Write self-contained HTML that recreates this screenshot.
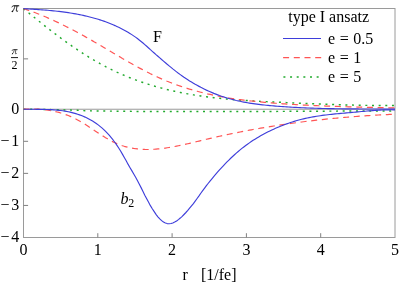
<!DOCTYPE html>
<html><head><meta charset="utf-8"><title>plot</title>
<style>
html,body{margin:0;padding:0;background:#fff;}
body{width:399px;height:283px;overflow:hidden;}
svg{display:block;}
text{font-family:"Liberation Serif",serif;font-size:16px;fill:#000;}
</style></head><body>
<svg width="399" height="283" viewBox="0 0 399 283">
<rect width="399" height="283" fill="#fff"/>
<g stroke="#9a9a9a" stroke-width="1" fill="none">
<rect x="23.5" y="8.5" width="371.5" height="229.0"/>
<line x1="23.5" y1="109.23729384585334" x2="395.0" y2="109.23729384585334"/>
<line stroke="#808080" x1="97.80" y1="233.20" x2="97.80" y2="237.50"/><line stroke="#808080" x1="172.10" y1="233.20" x2="172.10" y2="237.50"/><line stroke="#808080" x1="246.40" y1="233.20" x2="246.40" y2="237.50"/><line stroke="#808080" x1="320.70" y1="233.20" x2="320.70" y2="237.50"/><line stroke="#808080" x1="23.50" y1="58.87" x2="28.10" y2="58.87"/><line stroke="#808080" x1="23.50" y1="141.30" x2="28.10" y2="141.30"/><line stroke="#808080" x1="23.50" y1="173.37" x2="28.10" y2="173.37"/><line stroke="#808080" x1="23.50" y1="205.43" x2="28.10" y2="205.43"/>
</g>
<g fill="none" stroke-linecap="butt" stroke-linejoin="round">
<path d="M23.5,8.57 L25.4,10.11 L27.2,11.66 L29.1,13.19 L31.0,14.73 L32.8,16.25 L34.7,17.77 L36.6,19.28 L38.4,20.78 L40.3,22.27 L42.2,23.76 L44.0,25.23 L45.9,26.70 L47.8,28.16 L49.6,29.61 L51.5,31.04 L53.4,32.47 L55.2,33.89 L57.1,35.29 L59.0,36.68 L60.8,38.06 L62.7,39.43 L64.6,40.79 L66.4,42.13 L68.3,43.46 L70.2,44.77 L72.0,46.07 L73.9,47.36 L75.8,48.63 L77.6,49.88 L79.5,51.12 L81.4,52.34 L83.2,53.55 L85.1,54.74 L87.0,55.91 L88.8,57.07 L90.7,58.21 L92.6,59.32 L94.4,60.42 L96.3,61.51 L98.2,62.57 L100.0,63.61 L101.9,64.63 L103.8,65.63 L105.6,66.62 L107.5,67.58 L109.4,68.53 L111.2,69.45 L113.1,70.36 L115.0,71.25 L116.8,72.12 L118.7,72.97 L120.6,73.81 L122.4,74.63 L124.3,75.43 L126.2,76.21 L128.0,76.98 L129.9,77.73 L131.8,78.46 L133.6,79.18 L135.5,79.88 L137.4,80.57 L139.2,81.24 L141.1,81.89 L143.0,82.53 L144.8,83.16 L146.7,83.77 L148.6,84.36 L150.4,84.94 L152.3,85.51 L154.2,86.06 L156.0,86.60 L157.9,87.13 L159.8,87.64 L161.6,88.14 L163.5,88.63 L165.4,89.10 L167.2,89.57 L169.1,90.02 L171.0,90.45 L172.8,90.88 L174.7,91.29 L176.6,91.70 L178.4,92.09 L180.3,92.47 L182.2,92.84 L184.0,93.20 L185.9,93.55 L187.8,93.89 L189.6,94.22 L191.5,94.54 L193.4,94.85 L195.2,95.15 L197.1,95.44 L199.0,95.72 L200.8,96.00 L202.7,96.26 L204.6,96.52 L206.4,96.77 L208.3,97.01 L210.2,97.24 L212.1,97.47 L213.9,97.69 L215.8,97.90 L217.7,98.10 L219.5,98.30 L221.4,98.49 L223.3,98.68 L225.1,98.86 L227.0,99.03 L228.9,99.20 L230.7,99.36 L232.6,99.51 L234.5,99.66 L236.3,99.81 L238.2,99.95 L240.1,100.09 L241.9,100.22 L243.8,100.35 L245.7,100.47 L247.5,100.59 L249.4,100.71 L251.3,100.82 L253.1,100.93 L255.0,101.04 L256.9,101.15 L258.7,101.25 L260.6,101.35 L262.5,101.45 L264.3,101.54 L266.2,101.64 L268.1,101.73 L269.9,101.82 L271.8,101.91 L273.7,102.00 L275.5,102.08 L277.4,102.17 L279.3,102.26 L281.1,102.35 L283.0,102.43 L284.9,102.52 L286.7,102.60 L288.6,102.69 L290.5,102.78 L292.3,102.86 L294.2,102.94 L296.1,103.03 L297.9,103.11 L299.8,103.19 L301.7,103.28 L303.5,103.36 L305.4,103.44 L307.3,103.52 L309.1,103.59 L311.0,103.67 L312.9,103.75 L314.7,103.83 L316.6,103.90 L318.5,103.97 L320.3,104.05 L322.2,104.12 L324.1,104.19 L325.9,104.26 L327.8,104.33 L329.7,104.39 L331.5,104.46 L333.4,104.52 L335.3,104.59 L337.1,104.65 L339.0,104.71 L340.9,104.77 L342.7,104.82 L344.6,104.88 L346.5,104.93 L348.3,104.98 L350.2,105.03 L352.1,105.08 L353.9,105.12 L355.8,105.17 L357.7,105.21 L359.5,105.25 L361.4,105.29 L363.3,105.32 L365.1,105.36 L367.0,105.39 L368.9,105.42 L370.7,105.45 L372.6,105.47 L374.5,105.49 L376.3,105.51 L378.2,105.53 L380.1,105.55 L381.9,105.56 L383.8,105.57 L385.7,105.58 L387.5,105.58 L389.4,105.58 L391.3,105.58 L393.1,105.58 L395.0,105.57" stroke="#22aa2e" stroke-width="1.45" stroke-dasharray="2 4.65"/>
<path d="M23.5,109.20 L25.4,109.22 L27.2,109.24 L29.1,109.26 L31.0,109.29 L32.8,109.31 L34.7,109.34 L36.6,109.37 L38.4,109.39 L40.3,109.42 L42.2,109.45 L44.0,109.48 L45.9,109.52 L47.8,109.55 L49.6,109.58 L51.5,109.62 L53.4,109.65 L55.2,109.69 L57.1,109.73 L59.0,109.77 L60.8,109.82 L62.7,109.86 L64.6,109.91 L66.4,109.95 L68.3,110.00 L70.2,110.06 L72.0,110.11 L73.9,110.17 L75.8,110.24 L77.6,110.31 L79.5,110.41 L81.4,110.52 L83.2,110.63 L85.1,110.70 L87.0,110.76 L88.8,110.80 L90.7,110.85 L92.6,110.88 L94.4,110.92 L96.3,110.95 L98.2,110.97 L100.0,111.00 L101.9,111.02 L103.8,111.05 L105.6,111.07 L107.5,111.08 L109.4,111.10 L111.2,111.12 L113.1,111.13 L115.0,111.15 L116.8,111.17 L118.7,111.19 L120.6,111.21 L122.4,111.23 L124.3,111.26 L126.2,111.29 L128.0,111.32 L129.9,111.34 L131.8,111.37 L133.6,111.39 L135.5,111.40 L137.4,111.40 L139.2,111.40 L141.1,111.40 L143.0,111.40 L144.8,111.40 L146.7,111.40 L148.6,111.40 L150.4,111.40 L152.3,111.40 L154.2,111.40 L156.0,111.40 L157.9,111.40 L159.8,111.40 L161.6,111.40 L163.5,111.40 L165.4,111.40 L167.2,111.40 L169.1,111.40 L171.0,111.40 L172.8,111.40 L174.7,111.40 L176.6,111.40 L178.4,111.40 L180.3,111.40 L182.2,111.40 L184.0,111.40 L185.9,111.40 L187.8,111.40 L189.6,111.40 L191.5,111.40 L193.4,111.40 L195.2,111.40 L197.1,111.40 L199.0,111.40 L200.8,111.40 L202.7,111.40 L204.6,111.40 L206.4,111.41 L208.3,111.41 L210.2,111.41 L212.1,111.42 L213.9,111.42 L215.8,111.43 L217.7,111.43 L219.5,111.44 L221.4,111.45 L223.3,111.45 L225.1,111.46 L227.0,111.46 L228.9,111.47 L230.7,111.48 L232.6,111.48 L234.5,111.49 L236.3,111.49 L238.2,111.49 L240.1,111.50 L241.9,111.50 L243.8,111.50 L245.7,111.50 L247.5,111.50 L249.4,111.50 L251.3,111.50 L253.1,111.49 L255.0,111.49 L256.9,111.48 L258.7,111.48 L260.6,111.47 L262.5,111.47 L264.3,111.46 L266.2,111.45 L268.1,111.45 L269.9,111.44 L271.8,111.43 L273.7,111.42 L275.5,111.41 L277.4,111.40 L279.3,111.40 L281.1,111.39 L283.0,111.38 L284.9,111.37 L286.7,111.36 L288.6,111.35 L290.5,111.34 L292.3,111.33 L294.2,111.32 L296.1,111.32 L297.9,111.31 L299.8,111.30 L301.7,111.29 L303.5,111.29 L305.4,111.28 L307.3,111.27 L309.1,111.26 L311.0,111.25 L312.9,111.24 L314.7,111.23 L316.6,111.22 L318.5,111.21 L320.3,111.20 L322.2,111.18 L324.1,111.17 L325.9,111.16 L327.8,111.15 L329.7,111.14 L331.5,111.13 L333.4,111.12 L335.3,111.11 L337.1,111.10 L339.0,111.09 L340.9,111.08 L342.7,111.07 L344.6,111.06 L346.5,111.05 L348.3,111.04 L350.2,111.04 L352.1,111.03 L353.9,111.02 L355.8,111.02 L357.7,111.01 L359.5,111.01 L361.4,111.01 L363.3,111.00 L365.1,111.00 L367.0,111.00 L368.9,111.00 L370.7,111.00 L372.6,111.00 L374.5,111.00 L376.3,111.00 L378.2,111.00 L380.1,111.00 L381.9,111.00 L383.8,111.00 L385.7,111.00 L387.5,111.00 L389.4,111.00 L391.3,111.00 L393.1,111.00 L395.0,111.00" stroke="#22aa2e" stroke-width="1.45" stroke-dasharray="2 4.65"/>
<path d="M23.5,8.61 L25.4,9.22 L27.2,9.85 L29.1,10.50 L31.0,11.16 L32.8,11.84 L34.7,12.54 L36.6,13.25 L38.4,13.98 L40.3,14.72 L42.2,15.49 L44.0,16.26 L45.9,17.05 L47.8,17.86 L49.6,18.68 L51.5,19.52 L53.4,20.36 L55.2,21.23 L57.1,22.10 L59.0,22.99 L60.8,23.89 L62.7,24.81 L64.6,25.73 L66.4,26.67 L68.3,27.62 L70.2,28.58 L72.0,29.55 L73.9,30.54 L75.8,31.53 L77.6,32.53 L79.5,33.55 L81.4,34.57 L83.2,35.60 L85.1,36.64 L87.0,37.69 L88.8,38.75 L90.7,39.81 L92.6,40.88 L94.4,41.96 L96.3,43.04 L98.2,44.13 L100.0,45.22 L101.9,46.32 L103.8,47.42 L105.6,48.52 L107.5,49.62 L109.4,50.73 L111.2,51.83 L113.1,52.93 L115.0,54.03 L116.8,55.13 L118.7,56.23 L120.6,57.32 L122.4,58.41 L124.3,59.49 L126.2,60.57 L128.0,61.64 L129.9,62.70 L131.8,63.76 L133.6,64.80 L135.5,65.84 L137.4,66.86 L139.2,67.88 L141.1,68.88 L143.0,69.87 L144.8,70.85 L146.7,71.81 L148.6,72.76 L150.4,73.69 L152.3,74.60 L154.2,75.50 L156.0,76.38 L157.9,77.24 L159.8,78.09 L161.6,78.91 L163.5,79.71 L165.4,80.50 L167.2,81.27 L169.1,82.02 L171.0,82.75 L172.8,83.46 L174.7,84.16 L176.6,84.84 L178.4,85.50 L180.3,86.15 L182.2,86.78 L184.0,87.39 L185.9,87.99 L187.8,88.57 L189.6,89.14 L191.5,89.69 L193.4,90.23 L195.2,90.76 L197.1,91.27 L199.0,91.76 L200.8,92.24 L202.7,92.71 L204.6,93.17 L206.4,93.61 L208.3,94.04 L210.2,94.45 L212.1,94.86 L213.9,95.25 L215.8,95.63 L217.7,96.00 L219.5,96.36 L221.4,96.71 L223.3,97.05 L225.1,97.37 L227.0,97.69 L228.9,98.00 L230.7,98.30 L232.6,98.58 L234.5,98.86 L236.3,99.13 L238.2,99.40 L240.1,99.65 L241.9,99.90 L243.8,100.13 L245.7,100.36 L247.5,100.59 L249.4,100.80 L251.3,101.01 L253.1,101.22 L255.0,101.41 L256.9,101.60 L258.7,101.79 L260.6,101.97 L262.5,102.14 L264.3,102.31 L266.2,102.48 L268.1,102.64 L269.9,102.79 L271.8,102.95 L273.7,103.09 L275.5,103.24 L277.4,103.38 L279.3,103.52 L281.1,103.65 L283.0,103.79 L284.9,103.91 L286.7,104.04 L288.6,104.16 L290.5,104.28 L292.3,104.40 L294.2,104.51 L296.1,104.62 L297.9,104.73 L299.8,104.83 L301.7,104.93 L303.5,105.03 L305.4,105.13 L307.3,105.22 L309.1,105.32 L311.0,105.41 L312.9,105.49 L314.7,105.58 L316.6,105.66 L318.5,105.74 L320.3,105.82 L322.2,105.90 L324.1,105.97 L325.9,106.04 L327.8,106.11 L329.7,106.18 L331.5,106.25 L333.4,106.32 L335.3,106.38 L337.1,106.44 L339.0,106.50 L340.9,106.56 L342.7,106.62 L344.6,106.68 L346.5,106.74 L348.3,106.79 L350.2,106.84 L352.1,106.90 L353.9,106.95 L355.8,107.00 L357.7,107.05 L359.5,107.10 L361.4,107.15 L363.3,107.20 L365.1,107.24 L367.0,107.29 L368.9,107.34 L370.7,107.38 L372.6,107.43 L374.5,107.47 L376.3,107.52 L378.2,107.57 L380.1,107.61 L381.9,107.66 L383.8,107.70 L385.7,107.75 L387.5,107.79 L389.4,107.84 L391.3,107.88 L393.1,107.93 L395.0,107.98" stroke="#ff5555" stroke-width="1.2" stroke-dasharray="6 4.7"/>
<path d="M23.5,109.21 L25.4,109.13 L27.2,109.07 L29.1,109.03 L31.0,109.01 L32.8,109.02 L34.7,109.06 L36.6,109.12 L38.4,109.21 L40.3,109.33 L42.2,109.48 L44.0,109.67 L45.9,109.89 L47.8,110.14 L49.6,110.43 L51.5,110.75 L53.4,111.11 L55.2,111.52 L57.1,111.96 L59.0,112.45 L60.8,112.98 L62.7,113.56 L64.6,114.18 L66.4,114.85 L68.3,115.56 L70.2,116.33 L72.0,117.15 L73.9,118.02 L75.8,118.95 L77.6,119.93 L79.5,120.96 L81.4,122.04 L83.2,123.17 L85.1,124.33 L87.0,125.53 L88.8,126.74 L90.7,127.98 L92.6,129.23 L94.4,130.48 L96.3,131.73 L98.2,132.97 L100.0,134.20 L101.9,135.40 L103.8,136.59 L105.6,137.73 L107.5,138.84 L109.4,139.91 L111.2,140.92 L113.1,141.88 L115.0,142.77 L116.8,143.60 L118.7,144.36 L120.6,145.07 L122.4,145.71 L124.3,146.30 L126.2,146.83 L128.0,147.31 L129.9,147.74 L131.8,148.11 L133.6,148.44 L135.5,148.72 L137.4,148.95 L139.2,149.14 L141.1,149.29 L143.0,149.39 L144.8,149.46 L146.7,149.49 L148.6,149.48 L150.4,149.44 L152.3,149.37 L154.2,149.26 L156.0,149.12 L157.9,148.96 L159.8,148.77 L161.6,148.56 L163.5,148.32 L165.4,148.06 L167.2,147.78 L169.1,147.49 L171.0,147.17 L172.8,146.84 L174.7,146.49 L176.6,146.13 L178.4,145.76 L180.3,145.37 L182.2,144.97 L184.0,144.57 L185.9,144.15 L187.8,143.73 L189.6,143.30 L191.5,142.86 L193.4,142.42 L195.2,141.97 L197.1,141.52 L199.0,141.07 L200.8,140.62 L202.7,140.17 L204.6,139.73 L206.4,139.28 L208.3,138.84 L210.2,138.40 L212.1,137.97 L213.9,137.54 L215.8,137.12 L217.7,136.70 L219.5,136.28 L221.4,135.87 L223.3,135.46 L225.1,135.06 L227.0,134.66 L228.9,134.27 L230.7,133.88 L232.6,133.49 L234.5,133.11 L236.3,132.73 L238.2,132.35 L240.1,131.99 L241.9,131.62 L243.8,131.26 L245.7,130.90 L247.5,130.55 L249.4,130.20 L251.3,129.85 L253.1,129.51 L255.0,129.17 L256.9,128.84 L258.7,128.51 L260.6,128.18 L262.5,127.86 L264.3,127.54 L266.2,127.23 L268.1,126.92 L269.9,126.61 L271.8,126.31 L273.7,126.01 L275.5,125.72 L277.4,125.43 L279.3,125.14 L281.1,124.86 L283.0,124.58 L284.9,124.30 L286.7,124.03 L288.6,123.76 L290.5,123.50 L292.3,123.24 L294.2,122.98 L296.1,122.73 L297.9,122.48 L299.8,122.23 L301.7,121.99 L303.5,121.75 L305.4,121.51 L307.3,121.28 L309.1,121.05 L311.0,120.83 L312.9,120.61 L314.7,120.39 L316.6,120.18 L318.5,119.97 L320.3,119.76 L322.2,119.56 L324.1,119.36 L325.9,119.16 L327.8,118.97 L329.7,118.78 L331.5,118.60 L333.4,118.41 L335.3,118.23 L337.1,118.06 L339.0,117.89 L340.9,117.72 L342.7,117.55 L344.6,117.39 L346.5,117.23 L348.3,117.08 L350.2,116.92 L352.1,116.77 L353.9,116.63 L355.8,116.49 L357.7,116.35 L359.5,116.21 L361.4,116.08 L363.3,115.95 L365.1,115.82 L367.0,115.70 L368.9,115.58 L370.7,115.46 L372.6,115.35 L374.5,115.24 L376.3,115.13 L378.2,115.02 L380.1,114.92 L381.9,114.82 L383.8,114.73 L385.7,114.64 L387.5,114.55 L389.4,114.46 L391.3,114.38 L393.1,114.30 L395.0,114.22" stroke="#ff5555" stroke-width="1.2" stroke-dasharray="6 4.7"/>
<path d="M23.5,8.60 L25.4,8.71 L27.2,8.83 L29.1,8.95 L31.0,9.07 L32.8,9.19 L34.7,9.31 L36.6,9.44 L38.4,9.57 L40.3,9.70 L42.2,9.84 L44.0,9.99 L45.9,10.14 L47.8,10.30 L49.6,10.47 L51.5,10.64 L53.4,10.82 L55.2,11.02 L57.1,11.22 L59.0,11.43 L60.8,11.65 L62.7,11.89 L64.6,12.14 L66.4,12.39 L68.3,12.67 L70.2,12.95 L72.0,13.26 L73.9,13.57 L75.8,13.90 L77.6,14.25 L79.5,14.62 L81.4,15.00 L83.2,15.40 L85.1,15.82 L87.0,16.25 L88.8,16.71 L90.7,17.19 L92.6,17.69 L94.4,18.21 L96.3,18.75 L98.2,19.32 L100.0,19.90 L101.9,20.52 L103.8,21.16 L105.6,21.83 L107.5,22.52 L109.4,23.25 L111.2,24.00 L113.1,24.79 L115.0,25.60 L116.8,26.46 L118.7,27.34 L120.6,28.26 L122.4,29.22 L124.3,30.21 L126.2,31.24 L128.0,32.32 L129.9,33.44 L131.8,34.62 L133.6,35.85 L135.5,37.15 L137.4,38.52 L139.2,39.97 L141.1,41.48 L143.0,43.05 L144.8,44.66 L146.7,46.30 L148.6,47.97 L150.4,49.64 L152.3,51.31 L154.2,52.98 L156.0,54.63 L157.9,56.26 L159.8,57.89 L161.6,59.50 L163.5,61.11 L165.4,62.71 L167.2,64.29 L169.1,65.86 L171.0,67.40 L172.8,68.92 L174.7,70.40 L176.6,71.85 L178.4,73.26 L180.3,74.63 L182.2,75.97 L184.0,77.27 L185.9,78.53 L187.8,79.75 L189.6,80.94 L191.5,82.10 L193.4,83.22 L195.2,84.31 L197.1,85.36 L199.0,86.38 L200.8,87.36 L202.7,88.32 L204.6,89.24 L206.4,90.13 L208.3,90.99 L210.2,91.82 L212.1,92.62 L213.9,93.39 L215.8,94.13 L217.7,94.84 L219.5,95.52 L221.4,96.18 L223.3,96.80 L225.1,97.40 L227.0,97.98 L228.9,98.53 L230.7,99.05 L232.6,99.55 L234.5,100.03 L236.3,100.48 L238.2,100.91 L240.1,101.31 L241.9,101.70 L243.8,102.07 L245.7,102.41 L247.5,102.74 L249.4,103.06 L251.3,103.35 L253.1,103.63 L255.0,103.90 L256.9,104.15 L258.7,104.38 L260.6,104.61 L262.5,104.82 L264.3,105.02 L266.2,105.22 L268.1,105.40 L269.9,105.57 L271.8,105.74 L273.7,105.90 L275.5,106.06 L277.4,106.21 L279.3,106.35 L281.1,106.49 L283.0,106.62 L284.9,106.75 L286.7,106.88 L288.6,107.00 L290.5,107.11 L292.3,107.22 L294.2,107.33 L296.1,107.43 L297.9,107.53 L299.8,107.62 L301.7,107.71 L303.5,107.79 L305.4,107.88 L307.3,107.95 L309.1,108.03 L311.0,108.10 L312.9,108.16 L314.7,108.23 L316.6,108.29 L318.5,108.34 L320.3,108.40 L322.2,108.45 L324.1,108.49 L325.9,108.54 L327.8,108.58 L329.7,108.62 L331.5,108.66 L333.4,108.69 L335.3,108.72 L337.1,108.75 L339.0,108.78 L340.9,108.80 L342.7,108.82 L344.6,108.85 L346.5,108.86 L348.3,108.88 L350.2,108.90 L352.1,108.91 L353.9,108.92 L355.8,108.93 L357.7,108.94 L359.5,108.95 L361.4,108.96 L363.3,108.96 L365.1,108.97 L367.0,108.97 L368.9,108.98 L370.7,108.98 L372.6,108.98 L374.5,108.98 L376.3,108.98 L378.2,108.99 L380.1,108.99 L381.9,108.99 L383.8,108.99 L385.7,108.99 L387.5,108.99 L389.4,108.99 L391.3,108.99 L393.1,108.99 L395.0,108.99" stroke="#3e3eda" stroke-width="1.15"/>
<path d="M23.5,109.20 L25.4,109.23 L27.2,109.25 L29.1,109.27 L31.0,109.28 L32.8,109.29 L34.7,109.30 L36.6,109.31 L38.4,109.32 L40.3,109.34 L42.2,109.37 L44.0,109.40 L45.9,109.45 L47.8,109.51 L49.6,109.60 L51.5,109.69 L53.4,109.81 L55.2,109.96 L57.1,110.12 L59.0,110.32 L60.8,110.54 L62.7,110.80 L64.6,111.09 L66.4,111.41 L68.3,111.77 L70.2,112.18 L72.0,112.62 L73.9,113.11 L75.8,113.65 L77.6,114.23 L79.5,114.86 L81.4,115.55 L83.2,116.30 L85.1,117.10 L87.0,117.98 L88.8,118.92 L90.7,119.94 L92.6,121.04 L94.4,122.22 L96.3,123.50 L98.2,124.87 L100.0,126.34 L101.9,127.92 L103.8,129.61 L105.6,131.42 L107.5,133.36 L109.4,135.43 L111.2,137.63 L113.1,139.98 L115.0,142.48 L116.8,145.13 L118.7,147.95 L120.6,150.94 L122.4,154.11 L124.3,157.42 L126.2,160.79 L128.0,164.15 L129.9,167.43 L131.8,170.63 L133.6,173.81 L135.5,177.06 L137.4,180.43 L139.2,183.95 L141.1,187.63 L143.0,191.40 L144.8,195.17 L146.7,198.84 L148.6,202.35 L150.4,205.66 L152.3,208.78 L154.2,211.68 L156.0,214.36 L157.9,216.77 L159.8,218.89 L161.6,220.66 L163.5,222.05 L165.4,223.02 L167.2,223.56 L169.1,223.71 L171.0,223.49 L172.8,222.94 L174.7,222.08 L176.6,220.97 L178.4,219.61 L180.3,218.06 L182.2,216.34 L184.0,214.48 L185.9,212.50 L187.8,210.40 L189.6,208.21 L191.5,205.92 L193.4,203.54 L195.2,201.07 L197.1,198.50 L199.0,195.86 L200.8,193.23 L202.7,190.65 L204.6,188.13 L206.4,185.66 L208.3,183.24 L210.2,180.88 L212.1,178.57 L213.9,176.31 L215.8,174.11 L217.7,171.95 L219.5,169.85 L221.4,167.79 L223.3,165.79 L225.1,163.83 L227.0,161.92 L228.9,160.06 L230.7,158.25 L232.6,156.48 L234.5,154.77 L236.3,153.11 L238.2,151.49 L240.1,149.93 L241.9,148.41 L243.8,146.95 L245.7,145.54 L247.5,144.17 L249.4,142.85 L251.3,141.57 L253.1,140.34 L255.0,139.15 L256.9,138.00 L258.7,136.89 L260.6,135.81 L262.5,134.77 L264.3,133.77 L266.2,132.79 L268.1,131.85 L269.9,130.93 L271.8,130.04 L273.7,129.18 L275.5,128.34 L277.4,127.53 L279.3,126.75 L281.1,125.99 L283.0,125.25 L284.9,124.54 L286.7,123.85 L288.6,123.19 L290.5,122.56 L292.3,121.95 L294.2,121.37 L296.1,120.81 L297.9,120.28 L299.8,119.78 L301.7,119.30 L303.5,118.84 L305.4,118.41 L307.3,118.00 L309.1,117.61 L311.0,117.25 L312.9,116.90 L314.7,116.58 L316.6,116.27 L318.5,115.98 L320.3,115.70 L322.2,115.44 L324.1,115.19 L325.9,114.95 L327.8,114.73 L329.7,114.52 L331.5,114.31 L333.4,114.12 L335.3,113.93 L337.1,113.75 L339.0,113.57 L340.9,113.40 L342.7,113.23 L344.6,113.07 L346.5,112.90 L348.3,112.74 L350.2,112.57 L352.1,112.41 L353.9,112.24 L355.8,112.07 L357.7,111.90 L359.5,111.72 L361.4,111.55 L363.3,111.38 L365.1,111.21 L367.0,111.05 L368.9,110.89 L370.7,110.74 L372.6,110.59 L374.5,110.45 L376.3,110.33 L378.2,110.21 L380.1,110.11 L381.9,110.02 L383.8,109.94 L385.7,109.88 L387.5,109.84 L389.4,109.81 L391.3,109.80 L393.1,109.81 L395.0,109.85" stroke="#3e3eda" stroke-width="1.15"/>
<line x1="283" y1="38.4" x2="321" y2="38.4" stroke="#3e3eda" stroke-width="1.05"/>
<line x1="283.1" y1="57.55" x2="321.3" y2="57.55" stroke="#ff5555" stroke-width="1.2" stroke-dasharray="6 4.7"/>
<line x1="283.4" y1="76.9" x2="319" y2="76.9" stroke="#22aa2e" stroke-width="1.45" stroke-dasharray="2 4.65"/>
</g>
<g style="filter:grayscale(1)">
<text x="23.50" y="254.6" text-anchor="middle">0</text><text x="97.80" y="254.6" text-anchor="middle">1</text><text x="172.10" y="254.6" text-anchor="middle">2</text><text x="246.40" y="254.6" text-anchor="middle">3</text><text x="320.70" y="254.6" text-anchor="middle">4</text><text x="395.00" y="254.6" text-anchor="middle">5</text>
<text x="19.3" y="113.94" text-anchor="end">0</text><text x="19.3" y="146.00" text-anchor="end">−<tspan dx="1.8">1</tspan></text><text x="19.3" y="178.07" text-anchor="end">−<tspan dx="1.8">2</tspan></text><text x="19.3" y="210.13" text-anchor="end">−<tspan dx="1.8">3</tspan></text><text x="19.3" y="242.20" text-anchor="end">−<tspan dx="1.8">4</tspan></text>
<g fill="none" stroke="#000" stroke-linecap="round" stroke-linejoin="round"><path d="M12.0,6.9 C12.4,6.1 13.0,5.8 13.9,5.8 L18.8,5.8" stroke-width="1.0"/><path d="M14.9,6.1 C14.5,8.3 13.7,10.2 12.5,11.3" stroke-width="0.8"/><path d="M12.7,11.1 L12.2,11.5" stroke-width="1.2"/><path d="M17.0,6.1 C16.7,8 16.35,9.6 16.4,10.6 C16.45,11.5 17.1,11.7 17.8,11.0" stroke-width="0.95"/></g>
<g transform="translate(3.1,45.3) scale(0.75)" fill="none" stroke="#000" stroke-linecap="round" stroke-linejoin="round"><path d="M12.0,6.9 C12.4,6.1 13.0,5.8 13.9,5.8 L18.8,5.8" stroke-width="1.0"/><path d="M14.9,6.1 C14.5,8.3 13.7,10.2 12.5,11.3" stroke-width="0.8"/><path d="M12.7,11.1 L12.2,11.5" stroke-width="1.2"/><path d="M17.0,6.1 C16.7,8 16.35,9.6 16.4,10.6 C16.45,11.5 17.1,11.7 17.8,11.0" stroke-width="0.95"/></g>
<line x1="11" y1="57.6" x2="18" y2="57.6" stroke="#000" stroke-width="0.9"/>
<text x="11.5" y="69.3" style="font-size:12px">2</text>
<text x="153" y="42.2">F</text>
<text x="120.5" y="204.3" font-style="italic">b<tspan font-style="normal" font-size="12" dy="2.2" dx="-0.2">2</tspan></text>
<text x="288.2" y="22.1">type I ansatz</text>
<text x="328" y="43.6" style="word-spacing:0.6px">e = 0.5</text>
<text x="328" y="62.7" style="word-spacing:0.6px">e = 1</text>
<text x="328" y="81.9" style="word-spacing:0.6px">e = 5</text>
<text x="182.4" y="279.7">r</text>
<text x="201" y="279.7">[1/fe]</text>
</g>
</svg>
</body></html>
